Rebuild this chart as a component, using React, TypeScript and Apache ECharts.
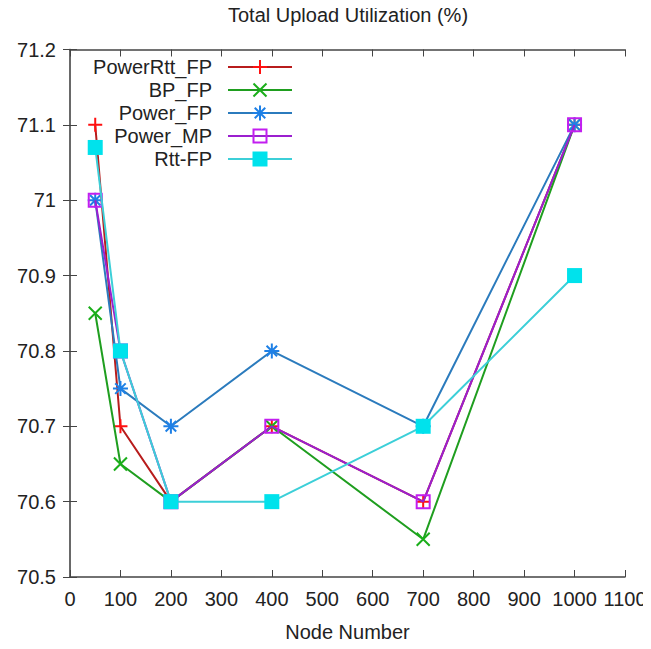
import React, { useEffect, useRef } from "react";
import * as echarts from "echarts";

const nodeNumbers = [50, 100, 200, 400, 700, 1000];
const powerRttFP = [71.1, 70.7, 70.6, 70.7, 70.6, 71.1];
const bpFP = [70.85, 70.65, 70.6, 70.7, 70.55, 71.1];
const powerFP = [71.0, 70.75, 70.7, 70.8, 70.7, 71.1];
const powerMP = [71.0, 70.8, 70.6, 70.7, 70.6, 71.1];
const rttFP = [71.07, 70.8, 70.6, 70.6, 70.7, 70.9];

const seriesNames = ["PowerRtt_FP", "BP_FP", "Power_FP", "Power_MP", "Rtt-FP"];
const xTicks = { min: 0, max: 1100, interval: 100 };
const yTicks = { min: 70.5, max: 71.2, interval: 0.1 };

const FONT = "Liberation Sans, Arial, sans-serif";

const PLUS = "path://M6,0 L6,12 M0,6 L12,6";
const CROSS = "path://M0,0 L12,12 M0,12 L12,0";
const STAR = "path://M6,0 L6,12 M0,6 L12,6 M1.8,1.8 L10.2,10.2 M1.8,10.2 L10.2,1.8";

const styles = [
  { line: "#b81c1c", mark: "#ff1010", kind: "plus", symbol: PLUS, size: 14 },
  { line: "#1f9e1f", mark: "#1aae1a", kind: "cross", symbol: CROSS, size: 13 },
  { line: "#2b7bbd", mark: "#1e80e6", kind: "star", symbol: STAR, size: 15 },
  { line: "#9b1fcf", mark: "#c21ef0", kind: "square", symbol: "rect", size: 13 },
  { line: "#3ccfd8", mark: "#00e2ec", kind: "filled", symbol: "rect", size: 15 },
];

export default function App() {
  const ref = useRef<HTMLDivElement>(null);
  useEffect(() => {
    if (!ref.current) return;
    const chart = echarts.init(ref.current, null, { renderer: "svg" });
    const allData = [powerRttFP, bpFP, powerFP, powerMP, rttFP];

    const series = allData.map((vals, i) => {
      const s = styles[i];
      const hollow = s.kind !== "filled";
      return {
        name: seriesNames[i],
        type: "line",
        xAxisIndex: 0,
        yAxisIndex: 0,
        data: nodeNumbers.map((x, j) => [x, vals[j]]),
        symbol: s.symbol,
        symbolSize: s.size,
        showAllSymbol: true,
        lineStyle: { color: s.line, width: 2 },
        itemStyle: hollow
          ? { color: "rgba(0,0,0,0)", borderColor: s.mark, borderWidth: 2 }
          : { color: s.mark, borderWidth: 0 },
        z: 2 + i,
      };
    });

    const legendGraphics: any[] = [];
    const ly0 = 67;
    const ldy = 23;
    seriesNames.forEach((name, i) => {
      const y = ly0 + i * ldy;
      const s = styles[i];
      legendGraphics.push({
        type: "text",
        x: 212,
        y,
        style: {
          text: name,
          textAlign: "right",
          textVerticalAlign: "middle",
          font: `20px ${FONT}`,
          fill: "#222",
        },
      });
      legendGraphics.push({
        type: "line",
        shape: { x1: 228, y1: y, x2: 292, y2: y },
        style: { stroke: s.line, lineWidth: 2 },
      });
      const cx = 260;
      const h = s.size / 2;
      if (s.kind === "plus" || s.kind === "star") {
        legendGraphics.push({ type: "line", shape: { x1: cx, y1: y - h, x2: cx, y2: y + h }, style: { stroke: s.mark, lineWidth: 2 } });
        legendGraphics.push({ type: "line", shape: { x1: cx - h, y1: y, x2: cx + h, y2: y }, style: { stroke: s.mark, lineWidth: 2 } });
      }
      if (s.kind === "cross" || s.kind === "star") {
        const d = s.kind === "star" ? h * 0.7 : h;
        legendGraphics.push({ type: "line", shape: { x1: cx - d, y1: y - d, x2: cx + d, y2: y + d }, style: { stroke: s.mark, lineWidth: 2 } });
        legendGraphics.push({ type: "line", shape: { x1: cx - d, y1: y + d, x2: cx + d, y2: y - d }, style: { stroke: s.mark, lineWidth: 2 } });
      }
      if (s.kind === "square") {
        legendGraphics.push({ type: "rect", shape: { x: cx - h, y: y - h, width: s.size, height: s.size }, style: { fill: "none", stroke: s.mark, lineWidth: 2 } });
      }
      if (s.kind === "filled") {
        legendGraphics.push({ type: "rect", shape: { x: cx - h, y: y - h, width: s.size, height: s.size }, style: { fill: s.mark } });
      }
    });

    const axisLine = { show: true, lineStyle: { color: "#444", width: 1.5 } };
    const tick = { show: true, inside: true, length: 7, lineStyle: { color: "#444", width: 1 } };

    chart.setOption({
      animation: false,
      backgroundColor: "#fff",
      title: {
        text: "Total Upload Utilization (%)",
        left: 343,
        top: 0,
        textAlign: "center",
        textStyle: { fontFamily: FONT, fontSize: 20, fontWeight: "normal", color: "#222" },
      },
      grid: { left: 70, right: 26, top: 49.5, bottom: 72 },
      xAxis: [
        {
          type: "value",
          ...xTicks,
          position: "bottom",
          name: "Node Number",
          nameLocation: "middle",
          nameGap: 45,
          nameTextStyle: { fontFamily: FONT, fontSize: 20, color: "#222" },
          axisLine,
          axisTick: tick,
          splitLine: { show: false },
          axisLabel: {
            fontFamily: FONT,
            fontSize: 20,
            color: "#222",
            margin: 12,
            formatter: (v: number) => String(v),
          },
        },
        {
          type: "value",
          ...xTicks,
          position: "top",
          axisLine,
          axisTick: tick,
          splitLine: { show: false },
          axisLabel: { show: false },
        },
      ],
      yAxis: [
        {
          type: "value",
          ...yTicks,
          position: "left",
          axisLine,
          axisTick: tick,
          splitLine: { show: false },
          axisLabel: {
            fontFamily: FONT,
            fontSize: 20,
            color: "#222",
            margin: 14,
            formatter: (v: number) => String(Math.round(v * 10) / 10),
          },
        },
        {
          type: "value",
          ...yTicks,
          position: "right",
          axisLine: { show: true, lineStyle: { color: "#666", width: 1.5 } },
          axisTick: tick,
          splitLine: { show: false },
          axisLabel: { show: false },
        },
      ],
      series,
      graphic: legendGraphics,
    });
    return () => chart.dispose();
  }, []);
  return <div ref={ref} style={{ width: 651, height: 649, margin: -8 }} />;
}
